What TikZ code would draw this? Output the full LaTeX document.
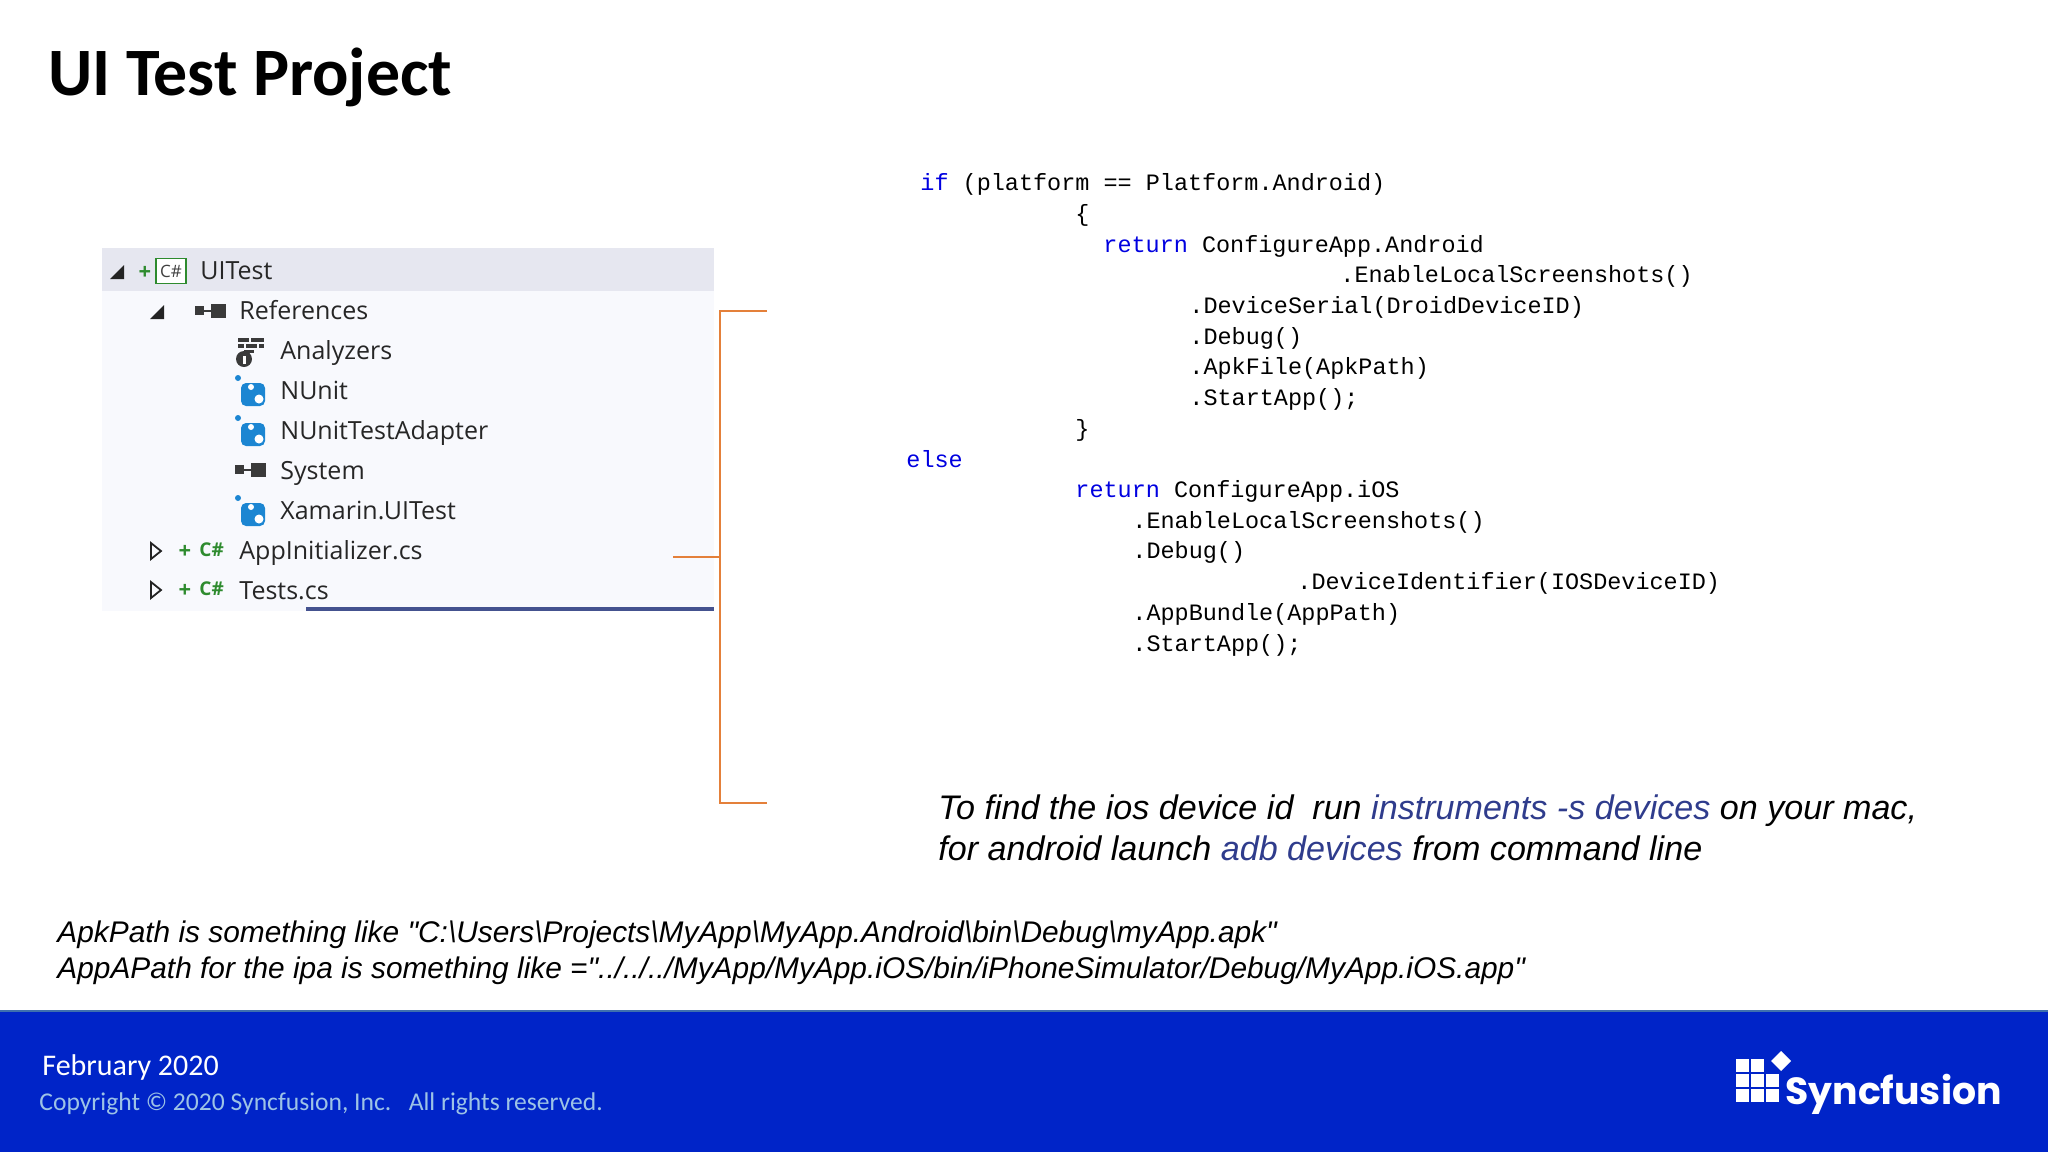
\documentclass[tikz,border=0pt]{standalone}
\usepackage{fontspec}
\setmainfont{Carlito}
\newfontfamily\codefont{Liberation Mono}
\newfontfamily\noteefont{Liberation Sans}
\newfontfamily\treefont{Open Sans}
\newfontfamily\logofont{Poppins}
\definecolor{footerblue}{HTML}{0024C8}
\definecolor{footerline}{HTML}{3F70AE}
\definecolor{copyblue}{HTML}{9DC3E6}
\definecolor{bracketorange}{HTML}{E4803A}
\definecolor{panelbg}{HTML}{F8F9FD}
\definecolor{rowbg}{HTML}{E6E7F0}
\definecolor{underblue}{HTML}{44528F}
\definecolor{noteblue}{HTML}{2F3C8C}
\definecolor{keyblue}{HTML}{0000E0}
\definecolor{treegreen}{HTML}{2E8B2E}
\definecolor{treeicon}{HTML}{3A3A3A}
\definecolor{refblue}{HTML}{1C86D2}
\newcommand{\kw}[1]{\textcolor{keyblue}{#1}}
\newcommand{\hl}[1]{\textcolor{noteblue}{#1}}
\tikzset{
  code/.style={anchor=base west, inner sep=0pt, font=\codefont\fontsize{11.74}{14}\selectfont},
  note/.style={anchor=base west, inner sep=0pt, font=\noteefont\itshape\fontsize{17.05}{20}\selectfont},
  small note/.style={anchor=base west, inner sep=0pt, font=\noteefont\itshape\fontsize{14.93}{18}\selectfont},
  tree/.style={anchor=base west, inner sep=0pt, text=black!85, font=\treefont\fontsize{12.5}{16}\selectfont},
  csharp/.style={anchor=base west, inner sep=0pt, text=treegreen, font=\treefont\bfseries\fontsize{9.5}{10}\selectfont},
  plus/.style={anchor=center, inner sep=0pt, text=treegreen, font=\treefont\bfseries\fontsize{11}{11}\selectfont},
  bracket/.style={draw=bracketorange, line width=1pt},
  open/.pic={\fill[treeicon!60!black] (7,-7) -- (7,7) -- (-7,7) -- cycle;},
  closed/.pic={\draw[treeicon!60!black, line width=.9pt] (-5,-8) -- (5,0) -- (-5,8) -- cycle;},
  refs/.pic={\fill[treeicon] (0,-5) rectangle (9,4); \fill[treeicon] (9,-1) rectangle (16,1); \fill[treeicon] (16,-7) rectangle (31,7);},
  nuget/.pic={\fill[refblue] (3,-5) circle (3);
    \fill[refblue, rounded corners=2.5pt] (6,0) rectangle (30,23);
    \fill[white] (16,4) circle (3); \fill[white] (24,16) circle (4.5);},
  lockbox/.pic={\fill[treeicon] (3,0) rectangle (14,4); \fill[treeicon] (16,0) rectangle (29,4);
    \fill[treeicon] (3,6) rectangle (9,10); \fill[treeicon] (11,6) rectangle (22,10); \fill[treeicon] (24,6) rectangle (29,10);
    \fill[treeicon] (9,12) rectangle (19,15);
    \fill[treeicon] (9,21) circle (8); \fill[white] (8,18) rectangle (10.5,26);}
}
\begin{document}
\begin{tikzpicture}[x=0.5pt,y=-0.5pt]
\useasboundingbox (0,0) rectangle (2048,1152);

% title
\node (title) [anchor=base west, inner sep=0pt, font=\bfseries\fontsize{33.9}{38}\selectfont] at (48,95) {UI Test Project};

% solution tree
\fill[panelbg] (102,248) rectangle (714,611);
\fill[rowbg] (102,248) rectangle (714,291);
\fill[underblue] (306,607) rectangle (714,611);

\pic at (117,272) {open};
\node (plus1) [plus] at (145,273) {+};
\node (box1) [draw=treegreen, fill=white, line width=.8pt, minimum width=15pt, minimum height=12.5pt, inner sep=0pt, text=black!75, font=\treefont\fontsize{8.5}{10}\selectfont] at (171,271) {C\#};
\node (uitest) [tree] at (200,279) {UITest};

\pic at (157,312) {open};
\pic at (195,311) {refs};
\node (references) [tree] at (239,319) {References};

\pic at (235,338) {lockbox};
\node (analyzers) [tree] at (280,359) {Analyzers};

\pic at (235,383) {nuget};
\node (nunit) [tree] at (280,399) {NUnit};

\pic at (235,423) {nuget};
\node (adapter) [tree] at (280,439) {NUnitTestAdapter};

\pic at (235,470) {refs};
\node (system) [tree] at (280,479) {System};

\pic at (235,503) {nuget};
\node (xamarin) [tree] at (280,519) {Xamarin.UITest};

\pic at (156,551) {closed};
\node (plus2) [plus] at (185,552) {+};
\node (cs2) [csharp] at (199,556) {C\#};
\node (appinit) [tree] at (239,559) {AppInitializer.cs};

\pic at (156,590) {closed};
\node (plus3) [plus] at (185,591) {+};
\node (cs3) [csharp] at (199,595) {C\#};
\node (tests) [tree] at (239,599) {Tests.cs};

% bracket
\coordinate (top) at (767,311);
\coordinate (topc) at (720,311);
\coordinate (midc) at (720,557);
\coordinate (mid) at (673,557);
\coordinate (botc) at (720,803);
\coordinate (bot) at (767,803);
\draw[bracket] (top) -- (topc) -- (botc) -- (bot);
\draw[bracket] (mid) -- (midc);

% code
\node (l1) [code] at (920,190) {\kw{if} (platform == Platform.Android)};
\node (l2) [code] at (1075,221) {\{};
\node (l3) [code] at (1103,252) {\kw{return} ConfigureApp.Android};
\node (l4) [code] at (1340,282) {.EnableLocalScreenshots()};
\node (l5) [code] at (1189,313) {.DeviceSerial(DroidDeviceID)};
\node (l6) [code] at (1189,344) {.Debug()};
\node (l7) [code] at (1189,374) {.ApkFile(ApkPath)};
\node (l8) [code] at (1189,405) {.StartApp();};
\node (l9) [code] at (1075,436) {\}};
\node (l10) [code] at (906,467) {\kw{else}};
\node (l11) [code] at (1075,497) {\kw{return} ConfigureApp.iOS};
\node (l12) [code] at (1132,528) {.EnableLocalScreenshots()};
\node (l13) [code] at (1132,558) {.Debug()};
\node (l14) [code] at (1297,589) {.DeviceIdentifier(IOSDeviceID)};
\node (l15) [code] at (1132,620) {.AppBundle(AppPath)};
\node (l16) [code] at (1132,651) {.StartApp();};

% notes
\node (find1) [note] at (938,819) {To find the ios device id\ \ run \hl{instruments -s devices} on your mac,};
\node (find2) [note] at (938,860) {for android launch \hl{adb devices} from command line};
\node (apk) [small note] at (57,942) {ApkPath is something like "C:\textbackslash Users\textbackslash Projects\textbackslash MyApp\textbackslash MyApp.Android\textbackslash bin\textbackslash Debug\textbackslash myApp.apk"};
\node (app) [small note] at (57,978) {AppAPath for the ipa is something like ="../../../MyApp/MyApp.iOS/bin/iPhoneSimulator/Debug/MyApp.iOS.app"};

% footer
\fill[footerblue] (0,1011) rectangle (2048,1152);
\draw[footerline, line width=1pt] (0,1011) -- (2048,1011);
\node (date) [anchor=base west, inner sep=0pt, text=white, font=\fontsize{15}{18}\selectfont] at (42,1075) {February 2020};
\node (copy) [anchor=base west, inner sep=0pt, text=copyblue, font=\fontsize{12.8}{16}\selectfont] at (39,1110) {Copyright © 2020 Syncfusion, Inc.\ \ \ All rights reserved.};

% logo
\foreach \col in {0,1,2} \foreach \row in {0,1,2} {
  \ifnum\col=2 \ifnum\row=0 \else \fill[white] (1736+15*\col,1059+15*\row) rectangle +(13,13); \fi
  \else \fill[white] (1736+15*\col,1059+15*\row) rectangle +(13,13); \fi
}
\fill[white] (1781,1051) -- (1791,1061) -- (1781,1071) -- (1771,1061) -- cycle;
\node (logo) [anchor=base west, inner sep=0pt, text=white, font=\logofont\bfseries\fontsize{18.9}{22}\selectfont] at (1785,1104) {Syncfusion};
\end{tikzpicture}
\end{document}
